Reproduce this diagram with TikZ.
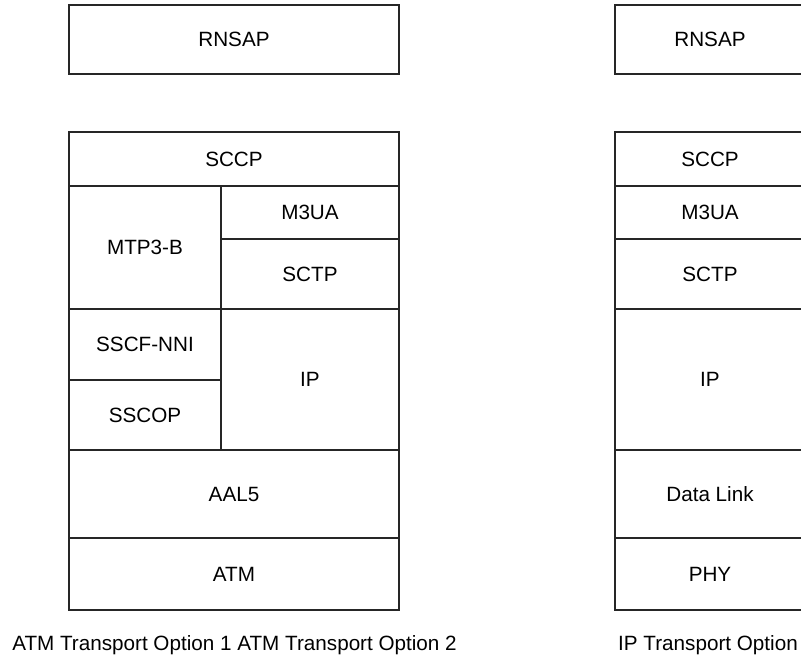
\documentclass[tikz,border=0pt]{standalone}
\usepackage{fontspec}
\setmainfont{Liberation Sans}
\usetikzlibrary{fit}

\begin{document}
\begin{tikzpicture}[x=0.75pt, y=-0.75pt,
			layer/.style={draw=black!85, line width=0.9pt, inner sep=0pt, outer sep=0pt, label=center:{#1}},
			caption/.style={anchor=base},
			font=\fontsize{15.5}{18}\selectfont]
			%Bildbereich
			\useasboundingbox (0,0) rectangle (801,657);
			% ATM Transport (links)
			\node[layer=RNSAP, fit={(69,5) (399,74)}] (a-rnsap) {};
			\node[layer=SCCP, fit={(69,132) (399,186)}] (a-sccp) {};
			\node[layer=MTP3-B, fit={(69,186) (221,309)}] (a-mtp) {};
			\node[layer=M3UA, fit={(221,186) (399,239)}] (a-m3ua) {};
			\node[layer=SCTP, fit={(221,239) (399,309)}] (a-sctp) {};
			\node[layer=SSCF-NNI, fit={(69,309) (221,380)}] (a-sscf) {};
			\node[layer=SSCOP, fit={(69,380) (221,450)}] (a-sscop) {};
			\node[layer=IP, fit={(221,309) (399,450)}] (a-ip) {};
			\node[layer=AAL5, fit={(69,450) (399,538)}] (a-aal) {};
			\node[layer=ATM, fit={(69,538) (399,610)}] (a-atm) {};
			% IP Transport (rechts)
			\node[layer=RNSAP, fit={(615,5) (805,74)}] (b-rnsap) {};
			\foreach \nm/\ya/\yb/\txt in {sccp/132/186/SCCP, m3ua/186/239/M3UA, sctp/239/309/SCTP,
				ip/309/450/IP, dl/450/538/Data Link, phy/538/610/PHY}
				\node[layer=\txt, fit={(615,\ya) (805,\yb)}] (b-\nm) {};
			% Beschriftung
			\node[caption] (cap-atm) at (234.5,650) {ATM Transport Option 1 ATM Transport Option 2};
			\node[caption] (cap-ip) at (708,650) {IP Transport Option};
		\end{tikzpicture}
\end{document}
